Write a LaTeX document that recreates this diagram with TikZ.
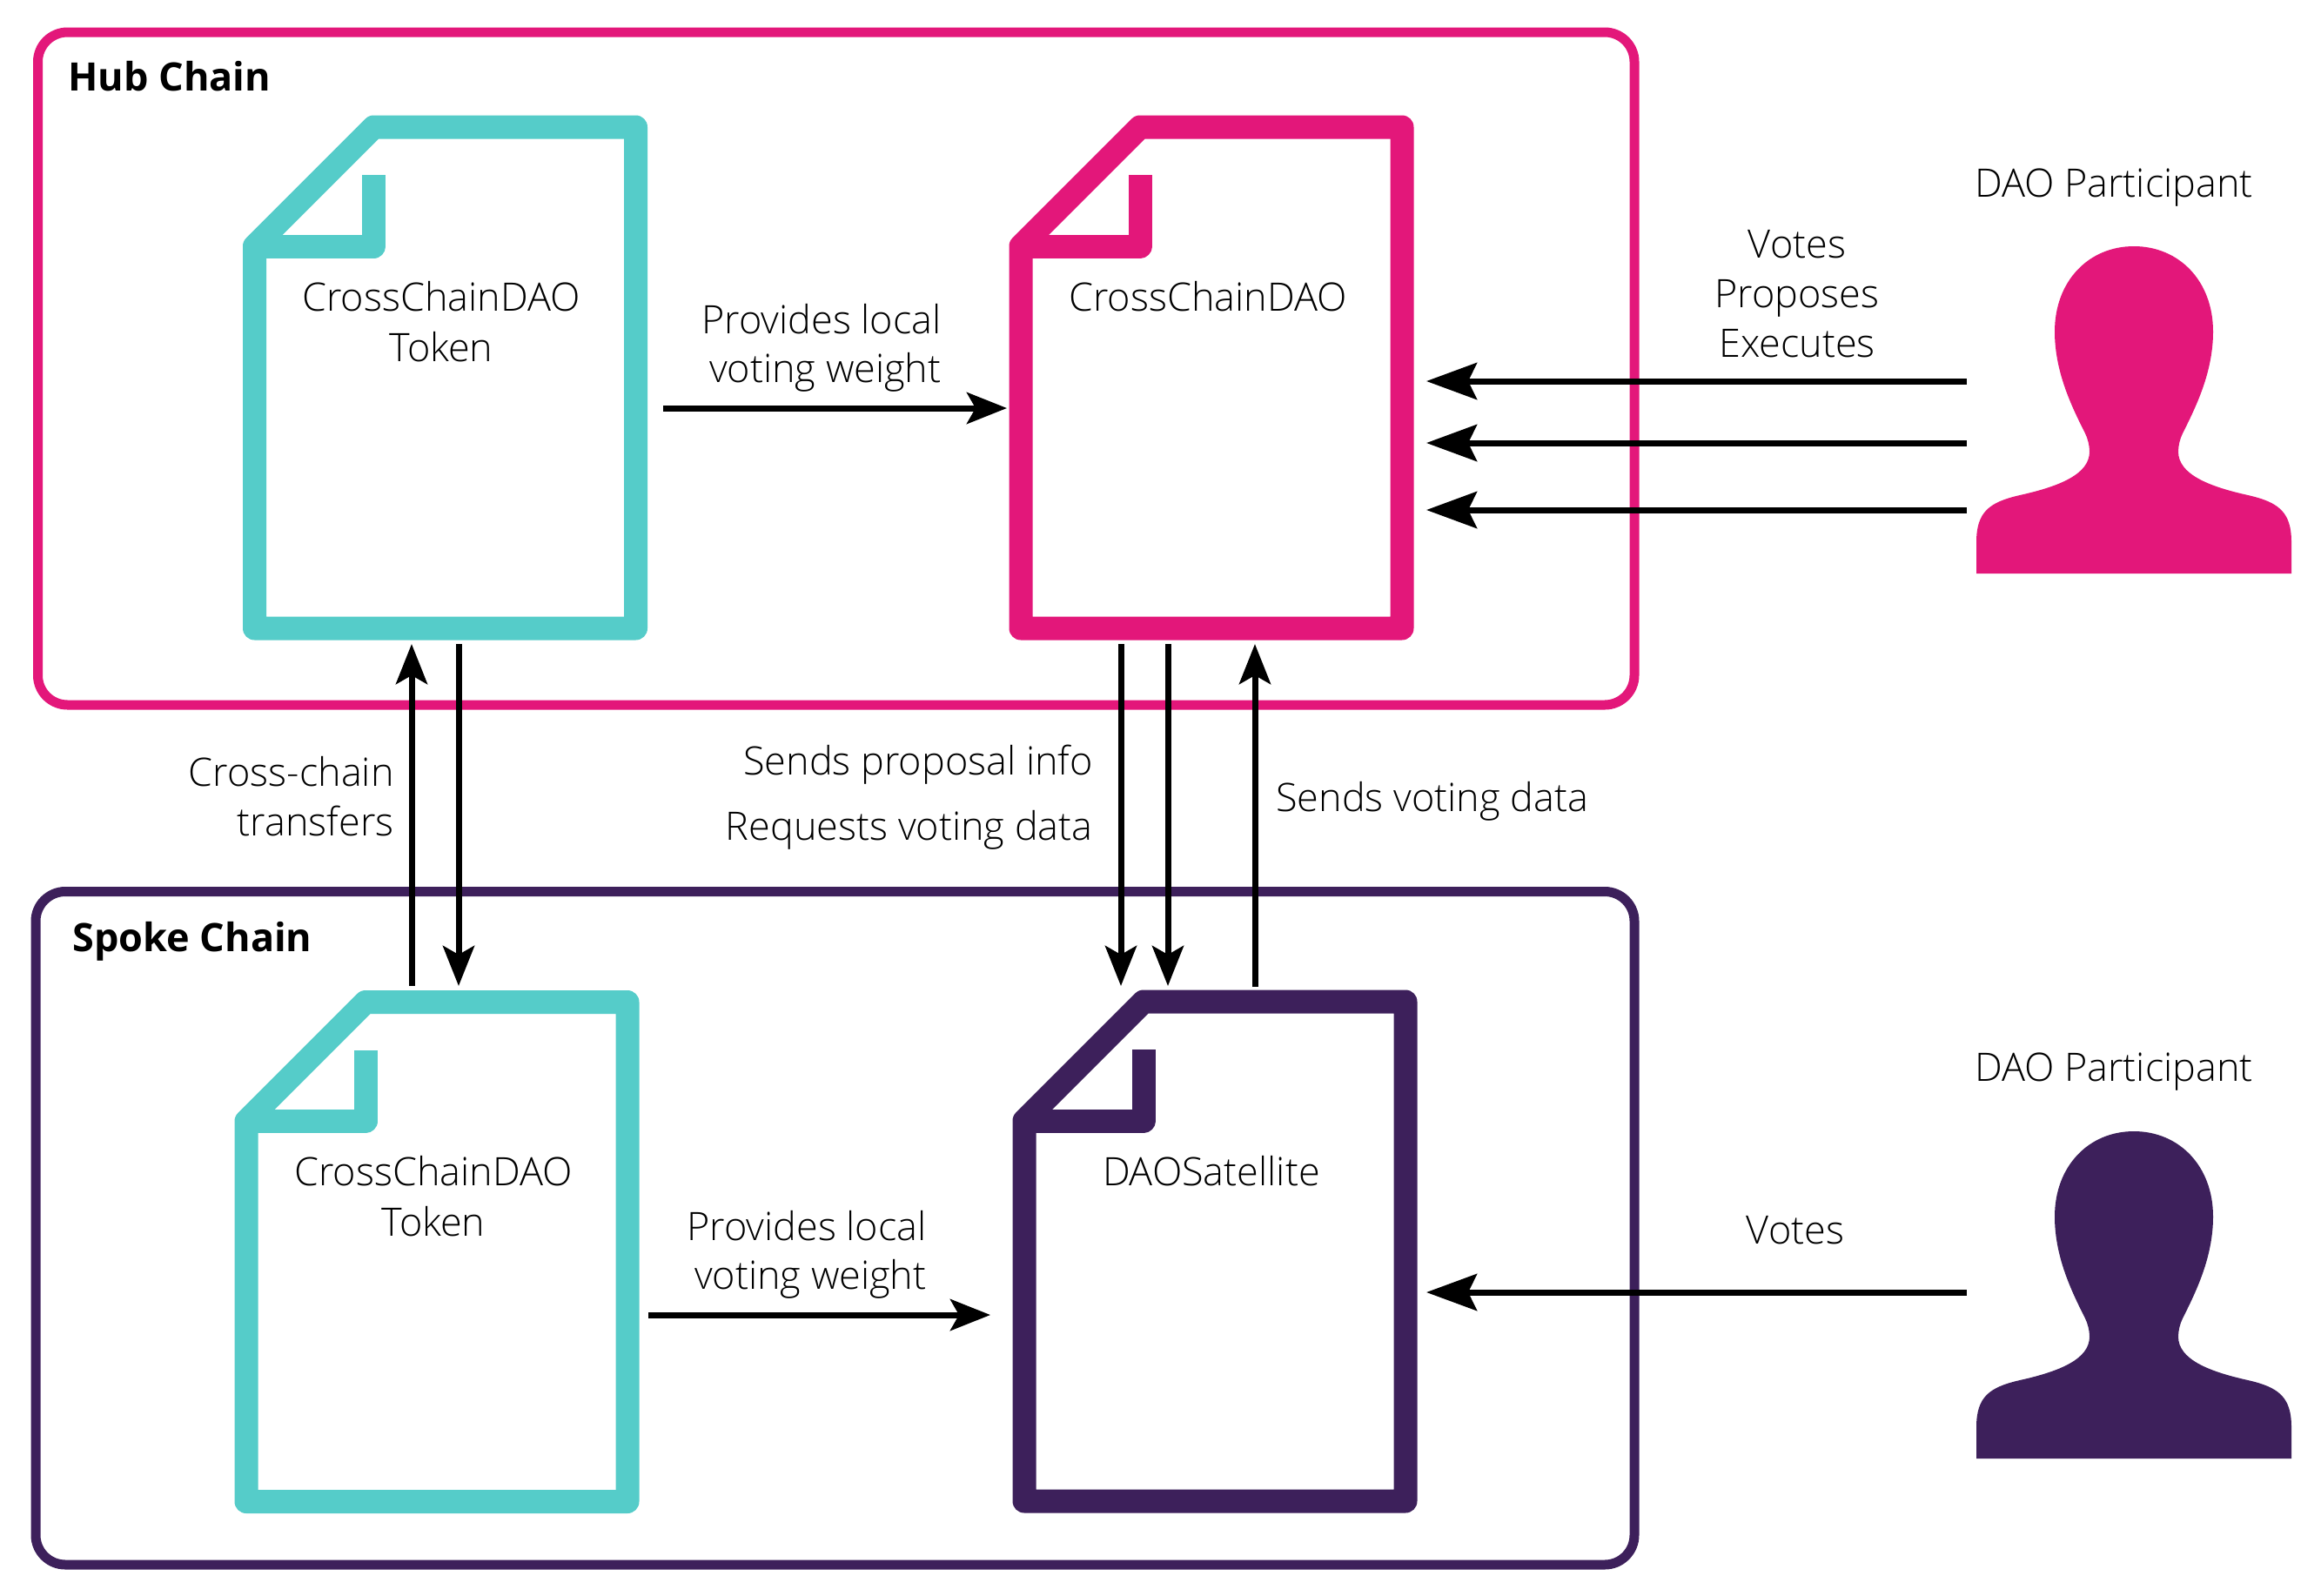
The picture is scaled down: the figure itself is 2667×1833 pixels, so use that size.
\documentclass[tikz,border=0pt]{standalone}
\usepackage{fontspec}
\setmainfont{Open Sans Light}[BoldFont={Open Sans Bold}]
\usetikzlibrary{arrows.meta}
\definecolor{hubpink}{HTML}{E3177A}
\definecolor{spokepurple}{HTML}{3D205B}
\definecolor{tokenteal}{HTML}{55CCC9}
\tikzset{
  x=0.5pt,y=-0.5pt,
  chainbox/.style={line width=5.5pt,rounded corners=17pt},
  docline/.style={line width=13.5pt,line join=round,line cap=butt},
  flow/.style={line width=3.5pt,-{Stealth[length=23pt,width=18pt,inset=5pt]}},
  bigflow/.style={line width=3.5pt,-{Stealth[length=29pt,width=21pt,inset=5pt]}},
  label/.style={inner sep=0pt,font=\fontsize{22.5pt}{30pt}\selectfont},
  title/.style={inner sep=0pt,anchor=base west,font=\fontsize{22.5pt}{30pt}\selectfont\bfseries},
}
\newcommand{\docicon}[4]{%
  \begin{scope}[shift={(#1,#2)}]
    \draw[docline,draw=#3] (0,137) -- (137,0) -- (438,0) -- (438,#4) -- (0,#4) -- cycle;
    \draw[docline,draw=#3] (0,137) -- (137,137) -- (137,55);
  \end{scope}}
\newcommand{\persona}[3]{%
  \fill[#3,shift={(#1,#2)}] (0,0)
    .. controls (52,0) and (91,40) .. (91,98)
    .. controls (91,145) and (71,185) .. (56,215)
    .. controls (53,221) and (51,229) .. (51,236)
    .. controls (51,262) and (86,276) .. (131,286)
    .. controls (166,294) and (181,305) .. (181,340)
    -- (181,376) -- (-181,376) -- (-181,340)
    .. controls (-181,305) and (-166,294) .. (-131,286)
    .. controls (-86,276) and (-51,262) .. (-51,236)
    .. controls (-51,229) and (-53,221) .. (-56,215)
    .. controls (-71,185) and (-91,145) .. (-91,98)
    .. controls (-91,40) and (-52,0) .. (0,0) -- cycle;}
\begin{document}
\begin{tikzpicture}
\useasboundingbox (0,0) rectangle (2667,1833);
\fill[white] (0,0) rectangle (2667,1833);
% chains
\draw[chainbox,draw=hubpink] (43.5,37) rectangle (1878,810);
\draw[chainbox,draw=spokepurple] (41,1024.5) rectangle (1878,1798);
\node[title] (hubt) at (78,104) {Hub Chain};
\node[title] (spoket) at (83,1093) {Spoke Chain};
% documents
\docicon{292.5}{146}{tokenteal}{576}
\docicon{1173}{146}{hubpink}{576}
\docicon{283}{1151.5}{tokenteal}{574}
\docicon{1177}{1151}{spokepurple}{574}
% persons
\persona{2452}{283}{hubpink}
\persona{2452}{1300}{spokepurple}
% document labels
\node[label,anchor=base] (hubtok) at (507,357) {CrossChainDAO};
\node[label,anchor=base] (hubtok2) at (507,415) {Token};
\node[label,anchor=base] (hubdao) at (1388,357) {CrossChainDAO};
\node[label,anchor=base] (sptok) at (498,1362) {CrossChainDAO};
\node[label,anchor=base] (sptok2) at (498,1420) {Token};
\node[label,anchor=base] (sat) at (1392,1362) {DAOSatellite};
% edge labels
\node[label,anchor=base east] (p1) at (1082,383) {Provides local};
\node[label,anchor=base east] (p2) at (1082,439) {voting weight};
\node[label,anchor=base east] (p3) at (1065,1425) {Provides local};
\node[label,anchor=base east] (p4) at (1065,1481) {voting weight};
\node[label,anchor=base] (v1) at (2065,296) {Votes};
\node[label,anchor=base] (v2) at (2065,353) {Proposes};
\node[label,anchor=base] (v3) at (2065,410) {Executes};
\node[label,anchor=base] (v4) at (2063,1429) {Votes};
\node[label,anchor=base] (d1) at (2429,226) {DAO Participant};
\node[label,anchor=base] (d2) at (2429,1242) {DAO Participant};
\node[label,anchor=base east] (c1) at (453,903) {Cross-chain};
\node[label,anchor=base east] (c2) at (453,960) {transfers};
\node[label,anchor=base east] (s1) at (1256,890) {Sends proposal info};
\node[label,anchor=base east] (s2) at (1256,965) {Requests voting data};
\node[label,anchor=base west] (s3) at (1466,932) {Sends voting data};
% connector ends
\coordinate (a1s) at (762,469); \coordinate (a1e) at (1157,469);
\coordinate (b1s) at (2260,438); \coordinate (b1e) at (1639,438);
\coordinate (b2s) at (2260,509); \coordinate (b2e) at (1639,509);
\coordinate (b3s) at (2260,586); \coordinate (b3e) at (1639,586);
\coordinate (c1s) at (473,1133); \coordinate (c1e) at (473,740);
\coordinate (c2s) at (527,740); \coordinate (c2e) at (527,1133);
\coordinate (e1s) at (1288,740); \coordinate (e1e) at (1288,1133);
\coordinate (e2s) at (1342,740); \coordinate (e2e) at (1342,1133);
\coordinate (e3s) at (1442,1134); \coordinate (e3e) at (1442,740);
\coordinate (f1s) at (745,1511); \coordinate (f1e) at (1138,1511);
\coordinate (g1s) at (2260,1485); \coordinate (g1e) at (1639,1485);
\draw[flow] (a1s) -- (a1e);
\draw[bigflow] (b1s) -- (b1e);
\draw[bigflow] (b2s) -- (b2e);
\draw[bigflow] (b3s) -- (b3e);
\draw[flow] (c1s) -- (c1e);
\draw[flow] (c2s) -- (c2e);
\draw[flow] (e1s) -- (e1e);
\draw[flow] (e2s) -- (e2e);
\draw[flow] (e3s) -- (e3e);
\draw[flow] (f1s) -- (f1e);
\draw[bigflow] (g1s) -- (g1e);
\end{tikzpicture}
\end{document}
